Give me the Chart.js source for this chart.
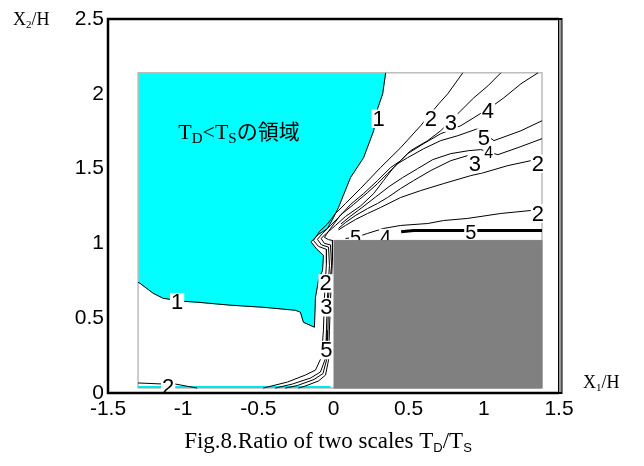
<!DOCTYPE html>
<html>
<head>
<meta charset="utf-8">
<script src="https://cdn.jsdelivr.net/npm/chart.js"></script>
<style>
html,body{margin:0;padding:0;background:#fff}
canvas{display:block}
</style>
</head>
<body>
<canvas id="c" width="644" height="466"></canvas>
<script>
const SERIF = '"Liberation Serif","Times New Roman",serif';
const SANS = '"Liberation Sans",Arial,sans-serif';
const CJK = '"Noto Sans CJK JP",sans-serif';

// axis ticks
const xTicks = [-1.5, -1, -0.5, 0, 0.5, 1, 1.5];
const yTicks = [0, 0.5, 1, 1.5, 2, 2.5];

// computational domain and the building (x1/H, x2/H)
const frame = [[-1.30, 0.033], [1.387, 0.033], [1.387, 2.14], [-1.30, 2.14], [-1.30, 0.033]];
const building = [[0, 0.033], [1.387, 0.033], [1.387, 1.02], [0, 1.02]];
const wallCyan = [[-1.30, 0.04], [-0.02, 0.04]];

// contour TD/TS = 1 (edge of the TD<TS region)
const c1 = [[0.347,2.14],[0.327,2.00],[0.293,1.90],[0.267,1.753],[0.20,1.573],[0.113,1.44],[0.033,1.24],[0,1.173],[-0.04,1.10],[-0.10,1.06],[-0.15,1.01],[-0.11,0.96],[-0.067,0.92],[-0.073,0.82],[-0.10,0.753],[-0.12,0.64],[-0.127,0.44],[-0.20,0.473],[-0.22,0.54],[-0.253,0.553],[-0.467,0.573],[-0.687,0.587],[-0.907,0.607],[-1.00,0.613],[-1.133,0.633],[-1.20,0.667],[-1.287,0.733],[-1.30,0.74]];

// upper bundle, round the corner and down the windward face
const c2 = [[0.86,2.14],[0.76,2.0],[0.70,1.933],[0.58,1.787],[0.447,1.64],[0.313,1.507],[0.18,1.367],[0.08,1.267],[0.013,1.20],[-0.04,1.13],[-0.093,1.08],[-0.133,1.02],[-0.10,0.98],[-0.047,0.96],[-0.047,0.867],[-0.06,0.64],[-0.067,0.42],[-0.08,0.24],[-0.12,0.153],[-0.187,0.12],[-0.307,0.073],[-0.467,0.033]];
const c3 = [[1.113,2.14],[1.027,2.053],[0.933,1.973],[0.847,1.887],[0.713,1.753],[0.627,1.687],[0.513,1.62],[0.447,1.553],[0.38,1.507],[0.293,1.42],[0.20,1.333],[0.113,1.26],[0.04,1.18],[-0.02,1.12],[-0.073,1.067],[-0.107,1.027],[-0.08,0.99],[-0.033,0.975],[-0.027,0.853],[-0.04,0.64],[-0.047,0.42],[-0.053,0.233],[-0.087,0.14],[-0.153,0.10],[-0.273,0.06],[-0.387,0.033]];
const c4 = [[1.36,2.14],[1.247,2.067],[1.133,1.973],[1.06,1.92],[0.933,1.84],[0.847,1.787],[0.713,1.733],[0.60,1.667],[0.493,1.60],[0.40,1.507],[0.333,1.42],[0.267,1.333],[0.18,1.25],[0.08,1.18],[0.013,1.12],[-0.047,1.067],[-0.083,1.033],[-0.06,1.0],[-0.02,0.99],[-0.013,0.853],[-0.033,0.64],[-0.037,0.42],[-0.043,0.233],[-0.07,0.13],[-0.13,0.09],[-0.24,0.05],[-0.32,0.033]];
const c5 = [[1.387,1.82],[1.247,1.753],[1.067,1.687],[0.96,1.767],[0.827,1.72],[0.713,1.687],[0.60,1.633],[0.493,1.573],[0.427,1.533],[0.36,1.467],[0.293,1.40],[0.227,1.34],[0.133,1.26],[0.047,1.19],[-0.02,1.10],[-0.047,1.06],[-0.06,1.04],[-0.033,1.025],[-0.007,1.02],[-0.007,0.887],[-0.02,0.62],[-0.027,0.42],[-0.033,0.22],[-0.053,0.12],[-0.10,0.08],[-0.187,0.047],[-0.233,0.033]];

// lower bundle coming in from the right
const c4b = [[1.387,1.70],[1.227,1.64],[1.093,1.593],[0.98,1.627],[0.90,1.62],[0.78,1.60],[0.66,1.56],[0.56,1.50],[0.46,1.44],[0.37,1.38],[0.28,1.31],[0.19,1.24],[0.11,1.18],[0.05,1.13]];
const c3b = [[0.893,1.587],[0.78,1.553],[0.647,1.487],[0.533,1.42],[0.447,1.367],[0.36,1.307],[0.293,1.267],[0.227,1.233],[0.147,1.187],[0.08,1.14],[0.033,1.10]];
const c2b = [[1.313,1.553],[1.16,1.52],[1.0,1.473],[0.913,1.453],[0.733,1.40],[0.58,1.353],[0.447,1.307],[0.313,1.24],[0.227,1.20],[0.147,1.16],[0.08,1.12],[0.033,1.09]];
const c2c = [[1.313,1.22],[1.113,1.20],[0.893,1.167],[0.733,1.153],[0.627,1.133],[0.447,1.12],[0.333,1.10],[0.227,1.067],[0.147,1.04],[0.08,1.033]];
const c5b = [[1.387,1.087],[0.533,1.087],[0.45,1.078]];
const c2e = [[-1.30,0.067],[-1.133,0.06],[-1.053,0.06],[-0.907,0.033]];

// contour labels
const labelText = ['1','2','3','4','5','4','3','2','2','5','5','4','2','3','5','1','2'];
const labelX = [0.30,0.647,0.78,1.027,1.00,1.033,0.94,1.36,1.36,0.913,0.147,0.347,-0.053,-0.047,-0.047,-1.04,-1.10];
const labelY = [1.833,1.833,1.807,1.887,1.707,1.607,1.533,1.533,1.20,1.073,1.04,1.04,0.733,0.573,0.287,0.607,0.04];
const labelSize = [22,22,22,22,22,16,22,22,22,20,20,20,22,22,22,22,22];

const regionX = -1.033, regionY = 1.70;

function pts(a) {
  return a.map(p => ({x: p[0], y: p[1]}));
}
function contour(a, w) {
  return {
    data: pts(a), showLine: true, pointRadius: 0, borderColor: '#000',
    borderWidth: w || 1, fill: false, order: 2
  };
}

function runs(ctx, x, y, parts) {
  parts.forEach(p => {
    ctx.font = p[1];
    ctx.fillText(p[0], x, y + (p[2] || 0));
    x += ctx.measureText(p[0]).width;
  });
  return x;
}
function runsWidth(ctx, parts) {
  let w = 0;
  parts.forEach(p => {
    ctx.font = p[1];
    w += ctx.measureText(p[0]).width;
  });
  return w;
}

const deco = {
  id: 'deco',
  afterDatasetDraw(chart, args) {
    if (chart.data.datasets[args.index].id !== 'c1') return;
    const ctx = chart.ctx, xs = chart.scales.x, ys = chart.scales.y;
    ctx.save();
    ctx.textAlign = 'center';
    ctx.textBaseline = 'middle';
    labelText.forEach((t, i) => {
      const px = xs.getPixelForValue(labelX[i]);
      const py = ys.getPixelForValue(labelY[i]);
      const s = labelSize[i];
      ctx.font = s + 'px ' + SANS;
      const w = ctx.measureText(t).width;
      ctx.fillStyle = '#fff';
      ctx.fillRect(px - w / 2 - 1, py - s * 0.42, w + 2, s * 0.84);
      ctx.fillStyle = '#000';
      ctx.fillText(t, px, py + 1);
    });
    ctx.textAlign = 'left';
    ctx.textBaseline = 'alphabetic';
    runs(ctx, xs.getPixelForValue(regionX), ys.getPixelForValue(regionY), [
      ['T', '22px ' + SERIF], ['D', '15px ' + SERIF, 4], ['<', '22px ' + SERIF],
      ['T', '22px ' + SERIF], ['S', '15px ' + SERIF, 4], ['の領域', '21px ' + CJK]
    ]);
    ctx.restore();
  },
  afterDraw(chart) {
    const ctx = chart.ctx, a = chart.chartArea;
    ctx.save();
    ctx.strokeStyle = '#000';
    ctx.lineWidth = 2.5;
    ctx.beginPath();
    ctx.moveTo(a.right, a.top);
    ctx.lineTo(a.left, a.top);
    ctx.lineTo(a.left, a.bottom);
    ctx.lineTo(a.right, a.bottom);
    ctx.stroke();
    ctx.fillStyle = '#000';
    ctx.fillRect(a.right - 1, a.top - 1, 4.5, a.bottom - a.top + 2);
    ctx.fillStyle = '#9a9a9a';
    ctx.fillRect(a.right, a.top + 1, 2.5, a.bottom - a.top - 2);

    ctx.fillStyle = '#000';
    ctx.textAlign = 'left';
    ctx.textBaseline = 'alphabetic';
    runs(ctx, 13, 25, [['X', '18px ' + SERIF], ['2', '11px ' + SERIF, 3], ['/H', '18px ' + SERIF]]);
    runs(ctx, 583, 388, [['X', '18px ' + SERIF], ['1', '11px ' + SERIF, 3], ['/H', '18px ' + SERIF]]);
    const cap = [
      ['Fig.8.Ratio of two scales T', '23px ' + SERIF], ['D', '13px ' + SANS, 4],
      ['/T', '23px ' + SERIF], ['S', '13px ' + SANS, 4]
    ];
    runs(ctx, 328 - runsWidth(ctx, cap) / 2, 448, cap);
    ctx.restore();
  }
};

new Chart(document.getElementById('c'), {
  type: 'scatter',
  data: {
    datasets: [
      {id: 'building', data: pts(building), showLine: true, pointRadius: 0, borderWidth: 1,
       borderColor: '#808080', backgroundColor: '#808080', fill: 'shape', order: 0},
      Object.assign(contour(c1), {id: 'c1', order: 1}),
      contour(c2), contour(c3), contour(c4), contour(c5),
      contour(c4b), contour(c3b), contour(c2b), contour(c2c),
      contour(c5b, 3), contour(c2e),
      {data: pts(wallCyan), showLine: true, pointRadius: 0, borderColor: '#00e5ee', borderWidth: 2, order: 2.5},
      {data: pts(frame), showLine: true, pointRadius: 0, borderColor: '#bcbcbc', borderWidth: 1.5, order: 3},
      {data: pts([[-1.30, 2.14]].concat(c1)), showLine: true, pointRadius: 0, borderWidth: 1,
       borderColor: '#00ffff', backgroundColor: '#00ffff', fill: 'shape', order: 4}
    ]
  },
  options: {
    responsive: false,
    devicePixelRatio: 1,
    animation: false,
    events: [],
    layout: {padding: {left: 0, top: 19, right: 85, bottom: 0}},
    plugins: {legend: {display: false}, tooltip: {enabled: false}},
    scales: {
      x: {
        type: 'linear', min: -1.5, max: 1.5,
        afterBuildTicks: s => { s.ticks = xTicks.map(v => ({value: v})); },
        afterFit: s => { s.height = 73; },
        grid: {display: false, drawTicks: false},
        border: {display: false},
        ticks: {color: '#000', font: {family: SANS, size: 21}, padding: 4, maxRotation: 0,
                autoSkip: false, callback: v => String(v)}
      },
      y: {
        type: 'linear', min: 0, max: 2.5,
        afterBuildTicks: s => { s.ticks = yTicks.map(v => ({value: v})); },
        afterFit: s => { s.width = 108; },
        grid: {display: false, drawTicks: false},
        border: {display: false},
        ticks: {color: '#000', font: {family: SANS, size: 21}, padding: 4, autoSkip: false,
                callback: v => String(v)}
      }
    }
  },
  plugins: [deco]
});
</script>
</body>
</html>
